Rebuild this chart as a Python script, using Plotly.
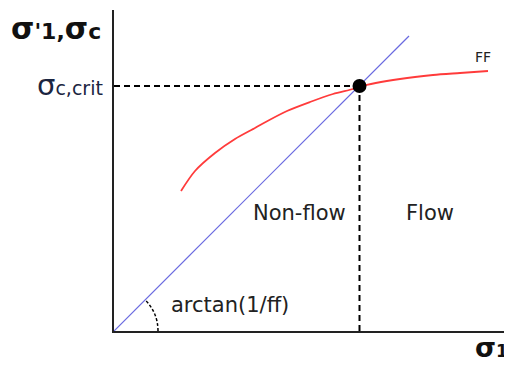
import plotly.graph_objects as go

# pixel-like data units: origin at the axes corner
ff_x = [67, 81, 101, 121, 141, 148, 173, 196, 219, 239, 246, 286, 319, 346, 374]
ff_y = [140, 160, 178, 192, 203, 207, 220, 229, 237, 242, 244.5, 252, 256, 258, 260]
line_x = [0, 295]
line_y = [0, 295]
crit_x = 245.5
crit_y = 245

X_MAX, Y_MAX = 396, 321

fig = go.Figure()

# angle arc near the origin
fig.add_shape(type="path", path="M 44,0 Q 44,18.2 31.1,31.1",
              line=dict(color="black", width=1.5, dash="3px,2px"), xref="x", yref="y")

# dashed guides to the critical point
fig.add_trace(go.Scatter(x=[0, crit_x], y=[crit_y, crit_y], mode="lines",
                         line=dict(color="black", width=2, dash="6px,4px"), hoverinfo="skip"))
fig.add_trace(go.Scatter(x=[crit_x, crit_x], y=[0, crit_y], mode="lines",
                         line=dict(color="black", width=2, dash="6px,4px"), hoverinfo="skip"))

fig.add_trace(go.Scatter(x=line_x, y=line_y, mode="lines",
                         line=dict(color="#6a6ae0", width=1.2)))
fig.add_trace(go.Scatter(x=ff_x, y=ff_y, mode="lines",
                         line=dict(color="#ff3b3b", width=1.8, shape="spline", smoothing=0.8)))
fig.add_trace(go.Scatter(x=[crit_x], y=[crit_y], mode="markers",
                         marker=dict(color="black", size=14)))

font = "DejaVu Sans"
anns = [
    dict(x=-11, y=303, xanchor="right",
         text="<b><span style='font-size:30px'>σ</span>'1,<span style='font-size:30px'>σ</span>c</b>",
         font=dict(size=22, color="#111111")),
    dict(x=-9, y=246, xanchor="right",
         text="<span style='font-size:29px'>σ</span>c,crit",
         font=dict(size=19, color="#1b2540")),
    dict(x=369, y=274, xanchor="center", text="FF",
         font=dict(size=14, color="#222222")),
    dict(x=185, y=118, xanchor="center", text="Non-flow",
         font=dict(size=21, color="#222222")),
    dict(x=316, y=118, xanchor="center", text="Flow",
         font=dict(size=21, color="#222222")),
    dict(x=116, y=26, xanchor="center", text="arctan(1/ff)",
         font=dict(size=21, color="#222222")),
    dict(x=396, y=-16, xanchor="right",
         text="<b><span style='font-size:27px'>σ</span>1</b>",
         font=dict(size=17, color="#111111")),
]
for a in anns:
    a["x"] = a["x"] / X_MAX
    a["y"] = a["y"] / Y_MAX
    a.update(showarrow=False, xref="paper", yref="paper", yanchor="middle")
    a["font"]["family"] = font
    fig.add_annotation(**a)

# the page body has an 8px margin, so the figure is 8px smaller than the window
fig.update_layout(
    width=504,
    height=357,
    margin=dict(l=106, r=2, t=2, b=34, pad=0),
    plot_bgcolor="white",
    paper_bgcolor="white",
    showlegend=False,
    font=dict(family=font),
)
fig.update_xaxes(range=[0, X_MAX], showline=True, linecolor="#222222", linewidth=2,
                 showgrid=False, zeroline=False, showticklabels=False, ticks="")
fig.update_yaxes(range=[0, Y_MAX], showline=True, linecolor="#222222", linewidth=2,
                 showgrid=False, zeroline=False, showticklabels=False, ticks="")

fig.write_html("out.html")
